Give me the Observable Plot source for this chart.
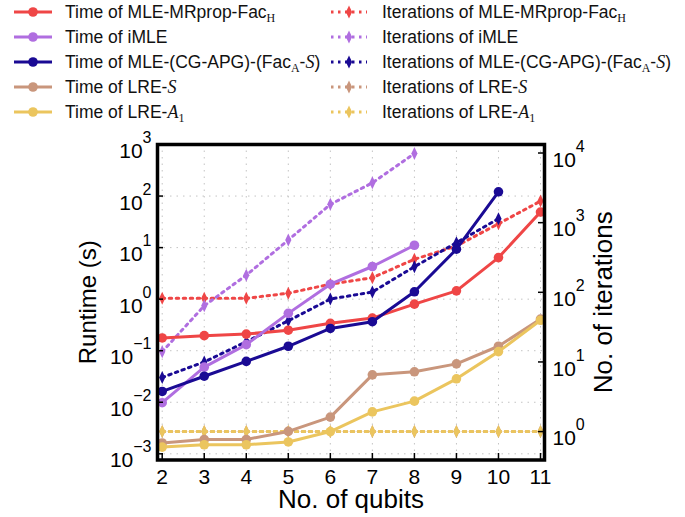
<!DOCTYPE html>
<html>
<head>
<meta charset="utf-8">
<script src="https://cdn.jsdelivr.net/npm/d3@7"></script>
<script src="https://cdn.jsdelivr.net/npm/@observablehq/plot@0.6"></script>
<style>
  html, body { margin: 0; padding: 0; background: #fff; }
  body { width: 685px; height: 517px; overflow: hidden; font-family: "Liberation Sans", Arial, sans-serif; }
  #legend { position: relative; width: 685px; height: 120px; }
  #chart svg { display: block; }
  .row { position: absolute; height: 24px; display: flex; align-items: center; font-size: 17.5px; color: #111; white-space: nowrap; }
  .row svg { display: block; }
  .sub { font-family: "Liberation Serif", "DejaVu Serif", serif; font-size: 12px; position: relative; top: 4px; }
  .cal { font-family: "Liberation Serif", "DejaVu Serif", serif; font-style: italic; font-size: 18px; }
</style>
</head>
<body>
<div id="legend"></div>
<div id="chart"></div>
<script>
// ---------- data ----------
const qubits = [2, 3, 4, 5, 6, 7, 8, 9, 10, 11];

const timeMRprop = [0.177, 0.196, 0.21, 0.25, 0.34, 0.43, 0.80, 1.45, 6.4, 49];
const timeIMLE   = [0.0098, 0.048, 0.131, 0.53, 1.95, 4.3, 11.1];
const timeCGAPG  = [0.0162, 0.032, 0.062, 0.122, 0.27, 0.365, 1.39, 9.3, 121];
const timeLRES   = [0.00162, 0.0019, 0.0019, 0.00272, 0.00515, 0.034, 0.039, 0.0555, 0.122, 0.41];
const timeLREA1  = [0.00135, 0.0015, 0.0015, 0.0017, 0.0027, 0.0065, 0.0105, 0.0285, 0.096, 0.39];

const iterMRprop = [82, 82, 82, 97, 131, 162, 298, 462, 964, 2040];
const iterIMLE   = [14, 64, 176, 563, 1830, 3730, 9840];
const iterCGAPG  = [6.0, 10, 19.5, 39, 80, 101, 233, 515, 1137];
const iterLRES   = [1, 1, 1, 1, 1, 1, 1, 1, 1, 1];
const iterLREA1  = [1, 1, 1, 1, 1, 1, 1, 1, 1, 1];

const methodNames = ["MLE-MRprop-Fac<span class='sub'>H</span>", "iMLE",
  "MLE-(CG-APG)-(Fac<span class='sub'>A</span>-<span class='cal'>S</span>)",
  "LRE-<span class='cal'>S</span>", "LRE-<span class='cal'>A</span><span class='sub'>1</span>"];
const colors = ["#ef4646", "#b06ee0", "#1a0a94", "#c9967c", "#ebc55e"];
const timeSeries = [timeMRprop, timeIMLE, timeCGAPG, timeLRES, timeLREA1];
const iterSeries = [iterMRprop, iterIMLE, iterCGAPG, iterLRES, iterLREA1];

const leftTicks = [-3, -2, -1, 0, 1, 2, 3];   // exponents, runtime axis
const rightTicks = [0, 1, 2, 3, 4];            // exponents, iterations axis

// mapping of the right (iterations) log axis onto the left (runtime) log axis
const A = -2.569, B = 1.351;
const iterToLeft = v => Math.pow(10, A + B * Math.log10(v));

// ---------- tidy rows ----------
const timeRows = [], iterRows = [];
timeSeries.forEach((vals, s) => vals.forEach((v, i) => timeRows.push({s, x: qubits[i], y: v})));
iterSeries.forEach((vals, s) => vals.forEach((v, i) => iterRows.push({s, x: qubits[i], y: iterToLeft(v)})));

// thin diamond symbol
const thinDiamond = {
  draw(ctx, size) {
    const r = Math.sqrt(size / Math.PI);
    ctx.moveTo(0, -r * 1.3); ctx.lineTo(r * 0.62, 0); ctx.lineTo(0, r * 1.3); ctx.lineTo(-r * 0.62, 0); ctx.closePath();
  }
};

const dotted = "2.5,4.5";

const marks = [
  Plot.ruleY(leftTicks.map(e => 10 ** e), {stroke: "#c4c4c4", strokeDasharray: "1.5,5"}),
  Plot.ruleX(qubits, {stroke: "#c4c4c4", strokeDasharray: "1.5,5"})
];
[0, 1, 2, 3, 4].forEach(s => {
  const it = iterRows.filter(d => d.s === s);
  marks.push(Plot.line(it, {x: "x", y: "y", stroke: colors[s], strokeWidth: 3, strokeDasharray: dotted}));
  marks.push(Plot.dot(it, {x: "x", y: "y", fill: colors[s], r: 5, symbol: thinDiamond}));
});
[0, 1, 2, 3, 4].forEach(s => {
  const t = timeRows.filter(d => d.s === s);
  marks.push(Plot.line(t, {x: "x", y: "y", stroke: colors[s], strokeWidth: 3}));
  marks.push(Plot.dot(t, {x: "x", y: "y", fill: colors[s], r: 4.8}));
});
marks.push(
  // inward ticks
  Plot.tickY(leftTicks.map(e => 10 ** e), {y: d => d, stroke: "black", strokeWidth: 1.5, insetRight: 381}),
  Plot.tickY(rightTicks.map(e => iterToLeft(10 ** e)), {y: d => d, stroke: "black", strokeWidth: 1.5, insetLeft: 381}),
  Plot.tickX(qubits, {x: d => d, stroke: "black", strokeWidth: 1.5, insetTop: 309}),
  // left axis labels
  Plot.axisY(leftTicks.map(e => 10 ** e), {anchor: "left", tickSize: 0, tickPadding: 6, fontSize: 21, label: null,
    tickFormat: d => "10^" + Math.round(Math.log10(d))}),
  // right axis labels (iterations)
  Plot.text(rightTicks, {y: e => iterToLeft(10 ** e), text: e => "10^" + e, frameAnchor: "right",
    textAnchor: "start", lineAnchor: "middle", dx: 8, fontSize: 21, fill: "black"}),
  Plot.axisX(qubits, {anchor: "bottom", tickSize: 0, tickPadding: 9, fontSize: 21, label: null, tickFormat: d => String(d)}),
  Plot.frame({stroke: "black", strokeWidth: 3.5}),
  Plot.text(["No. of qubits"], {frameAnchor: "bottom", textAnchor: "middle", lineAnchor: "middle", dy: 40, fontSize: 26, fill: "black"}),
  Plot.text(["Runtime (s)"], {frameAnchor: "left", textAnchor: "middle", lineAnchor: "middle", dx: -69, rotate: -90, fontSize: 24, fill: "black"}),
  Plot.text(["No. of iterations"], {frameAnchor: "right", textAnchor: "middle", lineAnchor: "middle", dx: 59, rotate: -90, fontSize: 26, fill: "black"})
);

const chart = Plot.plot({
  width: 685, height: 397,
  marginLeft: 157, marginRight: 141, marginTop: 24, marginBottom: 57.5,
  x: {domain: [1.888, 11.095]},
  y: {type: "log", domain: [10 ** -3.12, 1000]},
  style: {fontFamily: "'Liberation Sans', Arial, sans-serif", background: "white", color: "black", overflow: "visible"},
  marks
});

// superscript exponents on tick labels
const svgNS = "http://www.w3.org/2000/svg";
d3.select(chart).selectAll("text").each(function () {
  const m = (this.textContent || "").match(/^10\^(-?\d+)$/);
  if (!m) return;
  const e = +m[1];
  const yAttr = this.getAttribute("y");
  if (yAttr && /em$/.test(yAttr)) this.removeAttribute("y");
  this.textContent = "10";
  this.setAttribute("dy", "0.65em");
  const ts = document.createElementNS(svgNS, "tspan");
  ts.setAttribute("font-size", "16");
  ts.setAttribute("dy", "-15");
  ts.textContent = e < 0 ? "\u2212" + (-e) : String(e);
  this.appendChild(ts);
});
document.getElementById("chart").appendChild(chart);

// ---------- legend ----------
const legend = document.getElementById("legend");
const rowY = [12, 37, 62, 87, 112];
methodNames.forEach((name, s) => {
  const r1 = document.createElement("div");
  r1.className = "row";
  r1.style.left = "14px"; r1.style.top = (rowY[s] - 12) + "px";
  r1.innerHTML = `<svg width="38" height="24"><line x1="0" x2="38" y1="12" y2="12" stroke="${colors[s]}" stroke-width="3"/><circle cx="19" cy="12" r="4.8" fill="${colors[s]}"/></svg><span style="margin-left:13px">Time of ${name}</span>`;
  legend.appendChild(r1);
  const r2 = document.createElement("div");
  r2.className = "row";
  r2.style.left = "331px"; r2.style.top = (rowY[s] - 12) + "px";
  r2.innerHTML = `<svg width="36" height="24"><line x1="0" x2="36" y1="12" y2="12" stroke="${colors[s]}" stroke-width="3" stroke-dasharray="${dotted}"/><path d="M18,5.5 L21.1,12 L18,18.5 L14.9,12 Z" fill="${colors[s]}"/></svg><span style="margin-left:15px">Iterations of ${name}</span>`;
  legend.appendChild(r2);
});
</script>
</body>
</html>
